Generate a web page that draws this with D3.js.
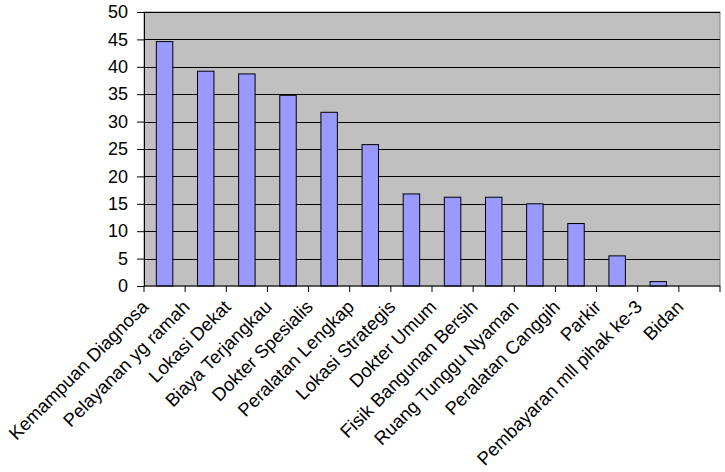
<!DOCTYPE html>
<html>
<head>
<meta charset="utf-8">
<script src="https://cdn.jsdelivr.net/npm/d3@7"></script>
<style>
  body { margin: 0; background: #fff; }
  text { font-family: "Liberation Sans", Arial, sans-serif; }
</style>
</head>
<body>
<script>
// chart data
const categories = [
  "Kemampuan Diagnosa", "Pelayanan yg ramah", "Lokasi Dekat", "Biaya Terjangkau",
  "Dokter Spesialis", "Peralatan Lengkap", "Lokasi Strategis", "Dokter Umum",
  "Fisik Bangunan Bersih", "Ruang Tunggu Nyaman", "Peralatan Canggih", "Parkir",
  "Pembayaran mll pihak ke-3", "Bidan"
];
const values = [44.6, 39.2, 38.7, 34.8, 31.7, 25.8, 16.8, 16.2, 16.2, 15.0, 11.4, 5.5, 0.8, 0];
const yTicks = [0, 5, 10, 15, 20, 25, 30, 35, 40, 45, 50];

const width = 725, height = 472;
const margin = { top: 12, right: 5, bottom: 186, left: 144 };

const svg = d3.select("body").append("svg")
  .attr("width", width)
  .attr("height", height);

const x = d3.scaleBand()
  .domain(categories)
  .range([margin.left, width - margin.right]);

const y = d3.scaleLinear()
  .domain([0, 50])
  .range([height - margin.bottom, margin.top]);

// plot area background
svg.append("rect")
  .attr("x", margin.left)
  .attr("y", margin.top)
  .attr("width", width - margin.left - margin.right)
  .attr("height", y(0) - margin.top)
  .attr("fill", "#c0c0c0")
  .attr("stroke", "#808080")
  .attr("stroke-width", 1);

// horizontal gridlines
svg.append("g")
  .selectAll("line")
  .data(yTicks.filter(d => d > 0))
  .join("line")
  .attr("x1", margin.left)
  .attr("x2", width - margin.right)
  .attr("y1", d => Math.round(y(d)) + 0.5)
  .attr("y2", d => Math.round(y(d)) + 0.5)
  .attr("stroke", "#000")
  .attr("stroke-width", 1);

// bars: Excel style gap width 150%
const barW = x.bandwidth() / 2.5;
svg.append("g")
  .selectAll("rect")
  .data(categories.map((c, i) => ({ c, v: values[i] })))
  .join("rect")
  .attr("x", d => x(d.c) + (x.bandwidth() - barW) / 2)
  .attr("y", d => y(d.v))
  .attr("width", barW)
  .attr("height", d => y(0) - y(d.v))
  .attr("fill", "#9999ff")
  .attr("stroke", "#000")
  .attr("stroke-width", 1);

// y axis
const yAxis = svg.append("g")
  .attr("transform", `translate(${margin.left},0)`)
  .call(d3.axisLeft(y).tickValues(yTicks).tickSize(7).tickPadding(9));
yAxis.selectAll("text")
  .attr("font-size", 18)
  .attr("font-family", "Liberation Sans, Arial, sans-serif")
  .attr("fill", "#000");
yAxis.select(".domain").attr("stroke", "#000");

// x axis line with ticks between categories
const xAxis = svg.append("g");
xAxis.append("line")
  .attr("x1", margin.left)
  .attr("x2", width - margin.right)
  .attr("y1", y(0))
  .attr("y2", y(0))
  .attr("stroke", "#000");
xAxis.selectAll(".tk")
  .data(categories.concat(["end"]))
  .join("line")
  .attr("class", "tk")
  .attr("x1", (d, i) => i < categories.length ? x(d) : x.range()[1])
  .attr("x2", (d, i) => i < categories.length ? x(d) : x.range()[1])
  .attr("y1", y(0))
  .attr("y2", y(0) + 6)
  .attr("stroke", "#000");

// rotated category labels
xAxis.selectAll(".lbl")
  .data(categories)
  .join("text")
  .attr("class", "lbl")
  .attr("transform", d => `translate(${x(d) + x.bandwidth() / 2 - 15},${y(0) + 22}) rotate(-45)`)
  .attr("text-anchor", "end")
  .attr("font-size", 18.5)
  .attr("fill", "#000")
  .text(d => d);
</script>
</body>
</html>
